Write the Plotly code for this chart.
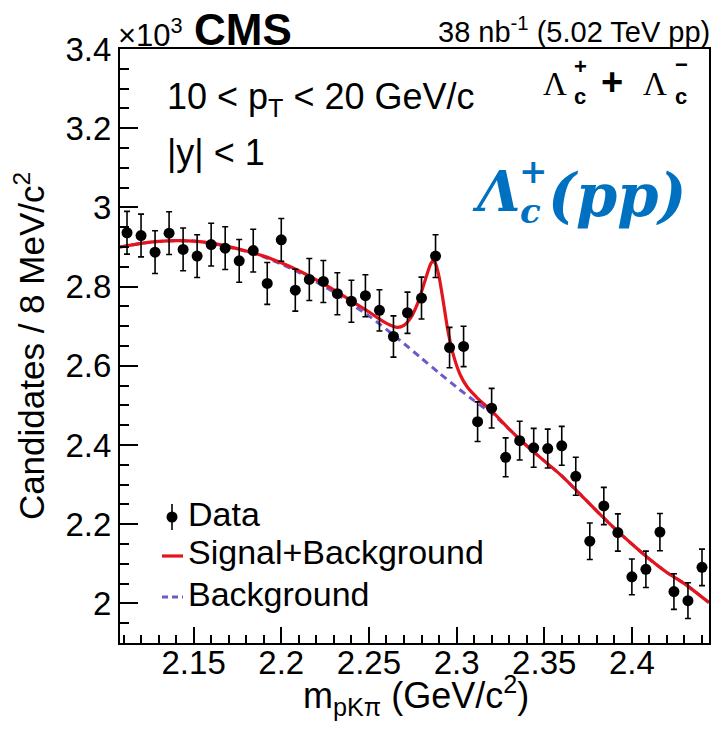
import plotly.graph_objects as go

# ---------------- data (values in units of 10^3 candidates) ----------------
mass = [2.112, 2.120, 2.128, 2.136, 2.144, 2.152, 2.160, 2.168, 2.176, 2.184,
        2.192, 2.200, 2.208, 2.216, 2.224, 2.232, 2.240, 2.248, 2.256, 2.264,
        2.272, 2.280, 2.288, 2.296, 2.304, 2.312, 2.320, 2.328, 2.336, 2.344,
        2.352, 2.360, 2.368, 2.376, 2.384, 2.392, 2.400, 2.408, 2.416, 2.424,
        2.432, 2.440]
counts = [2.936, 2.929, 2.887, 2.935, 2.894, 2.877, 2.906, 2.897, 2.865, 2.891,
          2.808, 2.918, 2.791, 2.818, 2.813, 2.782, 2.763, 2.777, 2.740, 2.674,
          2.734, 2.771, 2.877, 2.646, 2.649, 2.459, 2.493, 2.369, 2.411, 2.393,
          2.391, 2.398, 2.321, 2.157, 2.246, 2.179, 2.067, 2.086, 2.180, 2.030,
          2.007, 2.091]
errors = [0.054, 0.054, 0.054, 0.054, 0.054, 0.054, 0.054, 0.054, 0.054, 0.054,
          0.053, 0.054, 0.053, 0.053, 0.053, 0.053, 0.053, 0.053, 0.052, 0.052,
          0.052, 0.053, 0.054, 0.051, 0.051, 0.050, 0.050, 0.049, 0.049, 0.049,
          0.049, 0.049, 0.048, 0.046, 0.047, 0.047, 0.045, 0.046, 0.047, 0.045,
          0.045, 0.046]

# fitted curves
sb_mass = [2.108, 2.120, 2.130, 2.140, 2.150, 2.160, 2.170, 2.180, 2.190, 2.200,
           2.210, 2.220, 2.230, 2.240, 2.250, 2.256, 2.262, 2.266, 2.270, 2.274,
           2.278, 2.282, 2.285, 2.2865, 2.288, 2.290, 2.2925, 2.295, 2.298, 2.302,
           2.306, 2.312, 2.320, 2.330, 2.340, 2.350, 2.360, 2.370, 2.380, 2.390,
           2.400, 2.410, 2.420, 2.430, 2.444]
sb_vals = [2.900, 2.909, 2.914, 2.916, 2.915, 2.910, 2.901, 2.890, 2.877, 2.860,
           2.840, 2.817, 2.792, 2.764, 2.736, 2.718, 2.703, 2.697, 2.702, 2.722,
           2.760, 2.815, 2.855, 2.865, 2.858, 2.825, 2.760, 2.690, 2.630, 2.578,
           2.547, 2.518, 2.486, 2.440, 2.398, 2.360, 2.322, 2.278, 2.233, 2.190,
           2.150, 2.112, 2.078, 2.050, 2.002]
bkg_mass = [2.108, 2.120, 2.130, 2.140, 2.150, 2.160, 2.170, 2.180, 2.190, 2.200,
            2.210, 2.220, 2.230, 2.240, 2.250, 2.260, 2.270, 2.280, 2.290, 2.300,
            2.310, 2.320, 2.330, 2.340, 2.350, 2.360, 2.370, 2.380, 2.390, 2.400,
            2.410, 2.420, 2.430, 2.444]
bkg_vals = [2.900, 2.909, 2.914, 2.916, 2.915, 2.909, 2.900, 2.889, 2.875, 2.857,
            2.836, 2.812, 2.786, 2.756, 2.726, 2.692, 2.656, 2.619, 2.582, 2.546,
            2.512, 2.480, 2.440, 2.398, 2.360, 2.322, 2.278, 2.233, 2.190, 2.150,
            2.112, 2.078, 2.050, 2.002]

x_ticks = [2.15, 2.20, 2.25, 2.30, 2.35, 2.40]
x_tick_text = ["2.15", "2.2", "2.25", "2.3", "2.35", "2.4"]
y_ticks = [2.0, 2.2, 2.4, 2.6, 2.8, 3.0, 3.2, 3.4]
y_tick_text = ["2", "2.2", "2.4", "2.6", "2.8", "3", "3.2", "3.4"]
legend_labels = ["Data", "Signal+Background", "Background"]

# ---------------- styling ----------------
SANS = "Liberation Sans, Arial, sans-serif"
SERIF = "Liberation Serif, Times New Roman, serif"
BSERIF = "DejaVu Serif, serif"
RED = "#e3141c"
BLUE = "#6a5acd"
BLUE_TXT = "#0070c0"
W, H = 722, 743
L, R, T, B = 120, 13, 49, 100
PW, PH = W - L - R, H - T - B


def px(xp):
    return (xp - L) / PW


def py(yp):
    return (H - B - yp) / PH


fig = go.Figure()
fig.add_trace(go.Scatter(
    x=bkg_mass, y=bkg_vals, mode="lines", name=legend_labels[2],
    line=dict(color=BLUE, width=3, dash="7px,5px", shape="spline", smoothing=0.6),
    showlegend=False))
fig.add_trace(go.Scatter(
    x=sb_mass, y=sb_vals, mode="lines", name=legend_labels[1],
    line=dict(color=RED, width=3.2, shape="spline", smoothing=0.6),
    showlegend=False))
fig.add_trace(go.Scatter(
    x=mass, y=counts, mode="markers", name=legend_labels[0],
    marker=dict(color="black", size=11, symbol="circle"),
    error_y=dict(type="data", array=errors, color="black", thickness=1.6, width=3),
    showlegend=False))

ann = []
shapes = []


def add(text, xp, yp, size, xanchor="left", family=SANS, color="black", yanchor="middle"):
    ann.append(dict(text=text, x=px(xp), y=py(yp), xref="paper", yref="paper",
                    xanchor=xanchor, yanchor=yanchor, showarrow=False,
                    font=dict(family=family, size=size, color=color)))


add("×10<sup>3</sup>", 116, 33, 31)
add("<b>CMS</b>", 192, 30, 44)
add("38 nb<sup>-1</sup> (5.02 TeV pp)", 712, 30, 29, xanchor="right")
add("10 < p<sub>T</sub> < 20 GeV/c", 165, 99, 36)
add("|y| < 1", 165, 152, 36)

# Lambda_c^+ + Lambda_c^- label
add("Λ", 555, 84, 33, xanchor="center", family=SERIF)
add("<b>c</b>", 580, 97, 22, xanchor="center")
add("<b>+</b>", 580, 66, 22, xanchor="center")
add("<b>+</b>", 612, 82, 38, xanchor="center")
add("Λ", 655, 84, 33, xanchor="center", family=SERIF)
add("<b>c</b>", 681, 97, 22, xanchor="center")
add("<b>−</b>", 681, 64, 22, xanchor="center")

# blue Lambda_c^+(pp)
add("<b><i>Λ</i></b>", 496, 191, 56, xanchor="center", family=BSERIF, color=BLUE_TXT)
add("<b><i>c</i></b>", 530, 211, 34, xanchor="center", family=BSERIF, color=BLUE_TXT)
add("<b>+</b>", 533, 171, 34, xanchor="center", family=BSERIF, color=BLUE_TXT)
add("<b><i>(pp)</i></b>", 617, 195, 59, xanchor="center", family=BSERIF, color=BLUE_TXT)

# legend (drawn by hand to match the compact row spacing)
LEG_FONT = 34
add(legend_labels[0], 186, 514, LEG_FONT)
add(legend_labels[1], 186, 552, LEG_FONT)
add(legend_labels[2], 186, 594, LEG_FONT)
shapes.append(dict(type="line", xref="paper", yref="paper",
                   x0=px(172), x1=px(172), y0=py(504), y1=py(530),
                   line=dict(color="black", width=1.6)))
shapes.append(dict(type="circle", xref="paper", yref="paper",
                   x0=px(166.5), x1=px(177.5), y0=py(511.5), y1=py(522.5),
                   fillcolor="black", line=dict(color="black", width=0)))
shapes.append(dict(type="line", xref="paper", yref="paper",
                   x0=px(162), x1=px(183), y0=py(556), y1=py(556),
                   line=dict(color=RED, width=3.2)))
shapes.append(dict(type="line", xref="paper", yref="paper",
                   x0=px(162), x1=px(183), y0=py(597), y1=py(597),
                   line=dict(color=BLUE, width=3, dash="6px,4px")))

# x-axis title
add("m<sub>pKπ</sub> (GeV/c<sup>2</sup>)", 416, 695, 36, xanchor="center")

fig.update_layout(
    width=W, height=H,
    margin=dict(l=L, r=R, t=T, b=B, pad=0),
    paper_bgcolor="white", plot_bgcolor="white",
    font=dict(family=SANS, color="black"),
    annotations=ann, shapes=shapes,
    showlegend=False,
)
fig.update_xaxes(
    range=[2.108, 2.444], tickvals=x_ticks, ticktext=x_tick_text,
    ticks="inside", ticklen=16, tickwidth=1.5, tickcolor="black",
    minor=dict(dtick=0.01, ticks="inside", ticklen=8, tickwidth=1.5, tickcolor="black"),
    showline=True, linewidth=2, linecolor="black", mirror=True,
    showgrid=False, zeroline=False,
    ticklabelstandoff=-11,
    tickfont=dict(family=SANS, size=33, color="black"),
)
fig.update_yaxes(
    range=[1.90, 3.40], tickvals=y_ticks, ticktext=y_tick_text,
    ticks="inside", ticklen=18, tickwidth=1.5, tickcolor="black",
    minor=dict(dtick=0.05, ticks="inside", ticklen=9, tickwidth=1.5, tickcolor="black"),
    showline=True, linewidth=2, linecolor="black", mirror=True,
    showgrid=False, zeroline=False,
    tickfont=dict(family=SANS, size=33, color="black"),
    title=dict(text="Candidates / 8 MeV/c<sup>2</sup>", standoff=10,
               font=dict(family=SANS, size=35, color="black")),
)

fig.write_html("out.html", config={"displayModeBar": False},
               post_script="document.body.style.margin='0px';")
